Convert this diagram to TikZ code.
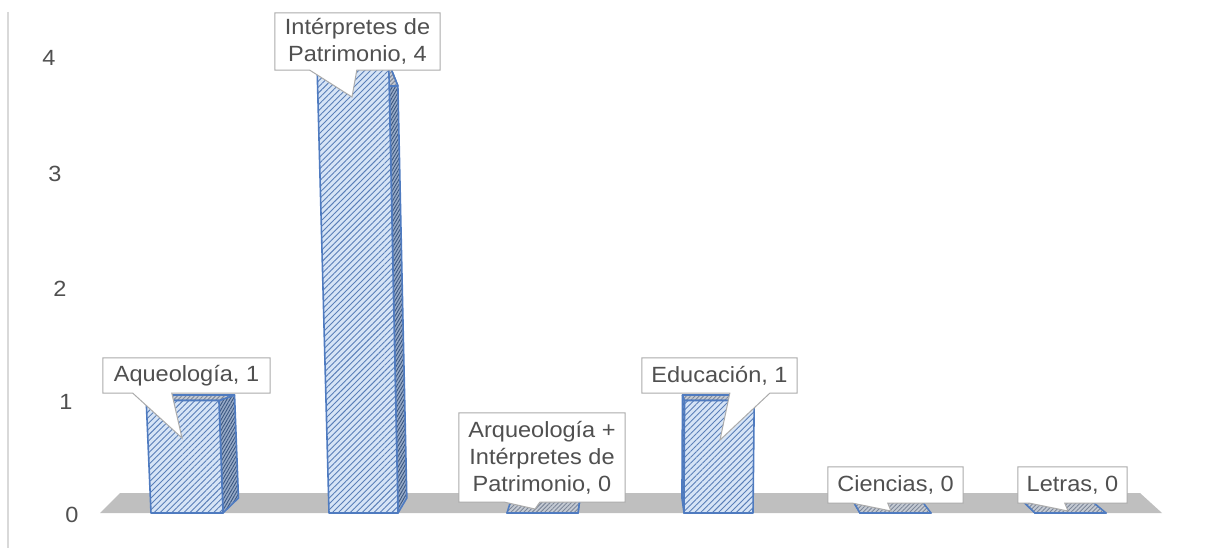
\documentclass[tikz,border=0pt]{standalone}
\usepackage{fontspec}
\setmainfont{Liberation Sans}[FakeStretch=1.07]
\usetikzlibrary{patterns.meta,calc}
\definecolor{txt}{HTML}{505050}
\definecolor{barfill}{HTML}{D6E4F6}
\definecolor{hatchc}{HTML}{5A7FB8}
\definecolor{edgec}{HTML}{4F7BC0}
\definecolor{sidefill}{HTML}{98ABC8}
\definecolor{sidehatch}{HTML}{3A5680}
\definecolor{topfill}{HTML}{C4CAD3}
\definecolor{tophatch}{HTML}{7D8799}
\definecolor{floorc}{HTML}{BFBFBF}
\definecolor{callb}{HTML}{ABABAB}
\definecolor{axisc}{HTML}{D9D9D9}
\pgfdeclarelayer{co}
\pgfdeclarelayer{tx}
\pgfsetlayers{main,co,tx}
\tikzset{
  frontface/.style={fill=barfill},
  fronthatch/.style={pattern={Lines[angle=45,distance=4.2pt,line width=0.9pt]},pattern color=hatchc},
  sidehatchst/.style={pattern={Lines[angle=60,distance=2.6pt,line width=0.9pt]},pattern color=sidehatch},
  tophatchst/.style={pattern={Lines[angle=45,distance=3pt,line width=0.9pt]},pattern color=tophatch},
  baredge/.style={draw=edgec,line width=1.6pt,line join=round},
  lab/.style={inner sep=0pt,text=txt,align=center,font=\fontsize{22}{27}\selectfont},
  callout/.style={fill=white,draw=callb,line width=1pt},
  ax/.style={text=txt,font=\fontsize{22}{27}\selectfont}
}
% #1 front-bottom left x, #2 front-bottom right x, #3 value
\newcommand\drawbar[3]{%
  \coordinate (fa) at ({630+(#1-630)*(1+0.01*#3)},{513-112.5*#3});
  \coordinate (fb) at ({630+(#2-630)*(1+0.01*#3)},{513-112.5*#3});
  \coordinate (fc) at (#2,513);
  \coordinate (fd) at (#1,513);
  \coordinate (ba) at ({630+(#1-630)*0.962*(1+0.01*#3)},{498-103*#3});
  \coordinate (bb) at ({630+(#2-630)*0.962*(1+0.01*#3)},{498-103*#3});
  \coordinate (bc) at ({630+(#2-630)*0.962},498);
  \coordinate (bd) at ({630+(#1-630)*0.962},498);
  \ifdim #2pt<630pt
    \fill[sidefill] (fb) -- (fc) -- (bc) -- (bb) -- cycle;
    \fill[sidehatchst] (fb) -- (fc) -- (bc) -- (bb) -- cycle;
    \draw[baredge] (fb) -- (fc) -- (bc) -- (bb) -- cycle;
  \else
    \fill[sidefill] (fa) -- (fd) -- (bd) -- (ba) -- cycle;
    \fill[sidehatchst] (fa) -- (fd) -- (bd) -- (ba) -- cycle;
    \draw[baredge] (fa) -- (fd) -- (bd) -- (ba) -- cycle;
  \fi
  \fill[topfill] (fa) -- (fb) -- (bb) -- (ba) -- cycle;
  \fill[tophatchst] (fa) -- (fb) -- (bb) -- (ba) -- cycle;
  \draw[baredge] (fa) -- (fb) -- (bb) -- (ba) -- cycle;
  \fill[frontface] (fa) -- (fb) -- (fc) -- (fd) -- cycle;
  \fill[fronthatch] (fa) -- (fb) -- (fc) -- (fd) -- cycle;
  \draw[baredge] (fa) -- (fb) -- (fc) -- (fd) -- cycle;
}
\newcommand\callpath[4]{% node, base offset 1, base offset 2, tip
  \path[callout] (#1.south west) -- ($(#1.south west)+(#2,0)$) -- (#4)
    -- ($(#1.south west)+(#3,0)$) -- (#1.south east) -- (#1.north east)
    -- (#1.north west) -- cycle;
}
\begin{document}
\begin{tikzpicture}[x=1pt,y=-1pt]
\useasboundingbox (0,0) rectangle (1227,548);
% vertical axis line
\draw[axisc,line width=1.5pt] (8,12) -- (8,548);
% floor
\fill[floorc] (100,513) -- (1162,513) -- (1140,493) -- (120,493) -- cycle;
% axis labels
\node[ax] (y4) at (49,58) {4};
\node[ax] (y3) at (55,174) {3};
\node[ax] (y2) at (60,289) {2};
\node[ax] (y1) at (66,402) {1};
\node[ax] (y0) at (72,515) {0};
% bars
\drawbar{151}{223}{1}
\drawbar{329}{398}{4}
\drawbar{507}{578}{0}
\drawbar{684}{753}{1}
\drawbar{860}{931}{0}
\drawbar{1035}{1106}{0}
% labels
\begin{pgfonlayer}{tx}
\node[lab,minimum width=167pt,minimum height=35pt] (l1) at (186.5,375.5) {Aqueología, 1};
\node[lab,minimum width=165pt,minimum height=57pt] (l2) at (357.5,41.5) {Intérpretes de\\Patrimonio, 4};
\node[lab,minimum width=166pt,minimum height=89pt] (l3) at (542,457.5) {Arqueología +\\Intérpretes de\\Patrimonio, 0};
\node[lab,minimum width=155pt,minimum height=35pt] (l4) at (719.5,375.5) {Educación, 1};
\node[lab,minimum width=135pt,minimum height=36pt] (l5) at (895.5,485) {Ciencias, 0};
\node[lab,minimum width=109pt,minimum height=36pt] (l6) at (1072.5,485) {Letras, 0};
\end{pgfonlayer}
\coordinate (t1) at (182,438);
\coordinate (t2) at (352,97);
\coordinate (t3) at (535,509);
\coordinate (t4) at (720,440);
\coordinate (t5) at (891,511);
\coordinate (t6) at (1068,511);
\begin{pgfonlayer}{co}
\callpath{l1}{30}{69}{t1}
\callpath{l2}{35}{82}{t2}
\callpath{l3}{46}{81}{t3}
\callpath{l4}{88}{128}{t4}
\callpath{l5}{25}{60}{t5}
\callpath{l6}{12}{47}{t6}
\end{pgfonlayer}
\end{tikzpicture}
\end{document}
